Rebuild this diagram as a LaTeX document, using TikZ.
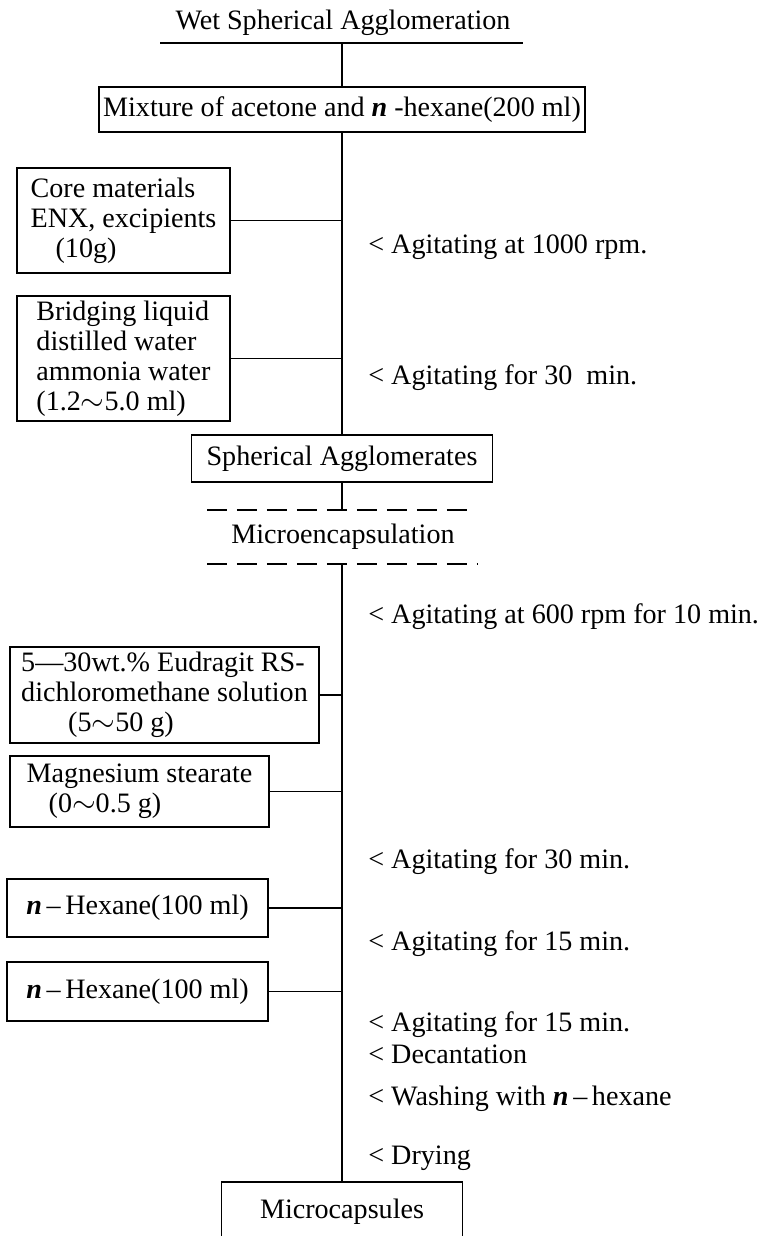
\documentclass[tikz,border=0pt]{standalone}
\usepackage{fontspec}
\setmainfont{Liberation Serif}
\usetikzlibrary{positioning}
\newcommand{\nital}{\textbf{\textit{n}}}

\begin{document}
\begin{tikzpicture}[x=0.02cm, y=-0.02cm,
                font=\fontsize{16}{17}\selectfont,
                caja/.style={
                    draw,
                    line width=1.1pt,
                    align=left,
                    inner sep=0pt
                },
                nota/.style={anchor=west, inner sep=0pt},
                enlace/.style={line width=1pt},
                corte/.style={line width=1.2pt, dash pattern=on 0.4cm off 0.2cm}
            ]
                \useasboundingbox (0,0) rectangle (761,1236);
                \clip (0,0) rectangle (761,1236);
                \node (titulo) at (343,23) {Wet Spherical Agglomeration};
                \coordinate (ti) at (160,43);
                \coordinate (td) at (523,43);
                \coordinate (tm) at (342,43);
                \node[caja, align=center, minimum width=9.74cm, minimum height=0.9cm] (mix) at (342,109.5) {Mixture of acetone and \nital\ -hexane(200 ml)};
                \node[caja, minimum width=4.26cm, minimum height=2.1cm] (core) at (123.5,220.5) {Core materials\\ENX, excipients\\\hspace*{0.5cm}(10g)};
                \node[caja, minimum width=4.26cm, minimum height=2.5cm] (bridge) at (123.5,358.5) {Bridging liquid\\distilled water\\ammonia water\\(1.2$\sim$5.0 ml)};
                \node[caja, align=center, minimum width=6.02cm, minimum height=0.94cm] (sph) at (342,458.5) {Spherical Agglomerates};
                \coordinate (d1) at (342,510);
                \node (micro-t) at (343,537) {Microencapsulation};
                \coordinate (d2) at (342,564);
                \node[caja, minimum width=6.18cm, minimum height=1.92cm] (eud) at (164.5,695) {5---30wt.\% Eudragit RS-\\dichloromethane solution\\\hspace*{0.94cm}(5$\sim$50 g)};
                \node[caja, minimum width=5.18cm, minimum height=1.42cm] (mag) at (139.5,791.5) {Magnesium stearate\\\hspace*{0.44cm}(0$\sim$0.5 g)};
                \node[caja, align=center, minimum width=5.22cm, minimum height=1.16cm] (hex1) at (137.5,908) {\nital\,--\,Hexane(100 ml)};
                \node[caja, align=center, minimum width=5.22cm, minimum height=1.18cm] (hex2) at (137.5,991.5) {\nital\,--\,Hexane(100 ml)};
                \node[caja, align=center, minimum width=4.82cm, minimum height=1.2cm, anchor=north] (micro) at (342,1181) {Microcapsules};

                \node[nota] (a1) at (368,247) {< Agitating at 1000 rpm.};
                \node[nota] (a2) at (368,378) {< Agitating for 30\ \ min.};
                \node[nota] (a3) at (368,617) {< Agitating at 600 rpm for 10 min.};
                \node[nota] (a4) at (368,862) {< Agitating for 30 min.};
                \node[nota] (a5) at (368,944) {< Agitating for 15 min.};
                \node[nota] (a6) at (368,1025) {< Agitating for 15 min.};
                \node[nota] (a7) at (368,1054) {< Decantation};
                \node[nota] (a8) at (368,1099) {< Washing with \nital\,--\,hexane};
                \node[nota] (a9) at (368,1158) {< Drying};

                \draw[line width=1.3pt] (ti) -- (td);
                \draw[enlace] (tm) -- (mix.north);
                \draw[enlace] (mix.south) -- (sph.north);
                \draw[enlace] (core.east) -- (core.east -| tm);
                \draw[enlace] (bridge.east) -- (bridge.east -| tm);
                \draw[enlace] (sph.south) -- (d1);
                \draw[corte] (207,510) -- (468,510);
                \draw[corte] (207,564) -- (477,564);
                \draw[enlace] (d2) -- (micro.north);
                \draw[enlace] (eud.east) -- (eud.east -| tm);
                \draw[enlace] (mag.east) -- (mag.east -| tm);
                \draw[enlace] (hex1.east) -- (hex1.east -| tm);
                \draw[enlace] (hex2.east) -- (hex2.east -| tm);
            \end{tikzpicture}
\end{document}
